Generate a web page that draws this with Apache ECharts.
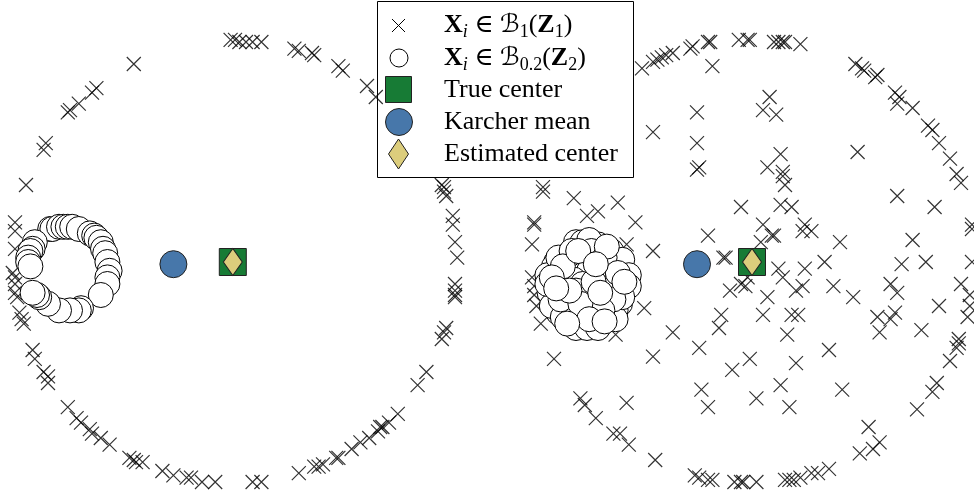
<!DOCTYPE html>
<html>
<head>
    <meta charset="utf-8">
    <title>Karcher mean vs estimated center</title>
    <script src="https://cdn.jsdelivr.net/npm/echarts@6/dist/echarts.min.js"></script>
    <style>
        body, html { margin: 0; padding: 0; height: 100%; overflow: hidden; background: #fff; }
        #main { width: 974px; height: 496px; }
    </style>
</head>
<body>
    <div id="main"></div>
    <script>
        // 左图：大球边界上的点 (×) 与小环上的点 (○)
        const leftCross = [[-0.02,1.01],[0.00,1.01],[0.02,1.00],[0.05,1.00],[0.08,1.00],[0.12,1.00],[0.27,0.97],[0.29,0.96],[0.35,0.95],[0.36,0.94],[0.47,0.89],[0.49,0.87],[0.60,0.80],[0.64,0.75],[0.94,0.35],[0.95,0.34],[0.95,0.32],[0.96,0.30],[0.99,0.21],[0.99,0.17],[1.00,0.09],[1.01,0.02],[1.00,-0.10],[1.00,-0.13],[1.00,-0.15],[1.00,-0.16],[0.96,-0.30],[0.95,-0.32],[0.94,-0.35],[0.87,-0.50],[0.83,-0.56],[0.74,-0.69],[0.70,-0.73],[0.67,-0.75],[0.66,-0.75],[0.65,-0.77],[0.61,-0.80],[0.57,-0.82],[0.53,-0.85],[0.47,-0.89],[0.46,-0.89],[0.40,-0.92],[0.38,-0.93],[0.36,-0.93],[0.29,-0.96],[0.12,-1.00],[0.08,-1.00],[-0.09,-1.00],[-0.15,-1.00],[-0.20,-0.98],[-0.22,-0.98],[-0.28,-0.97],[-0.33,-0.95],[-0.42,-0.91],[-0.45,-0.91],[-0.46,-0.90],[-0.48,-0.89],[-0.57,-0.83],[-0.61,-0.80],[-0.65,-0.78],[-0.66,-0.76],[-0.70,-0.73],[-0.72,-0.71],[-0.76,-0.66],[-0.85,-0.55],[-0.85,-0.52],[-0.87,-0.50],[-0.91,-0.44],[-0.92,-0.40],[-0.96,-0.28],[-0.97,-0.26],[-0.98,-0.23],[-0.99,-0.16],[-1.00,-0.14],[-1.00,-0.10],[-1.00,-0.07],[-1.01,-0.05],[-1.00,0.06],[-1.00,0.14],[-1.00,0.18],[-0.95,0.35],[-0.87,0.51],[-0.86,0.54],[-0.76,0.68],[-0.75,0.69],[-0.71,0.72],[-0.65,0.77],[-0.63,0.79],[-0.46,0.90]];
        const leftCircle = [[-0.84,0.15],[-0.83,0.15],[-0.80,0.16],[-0.78,0.16],[-0.76,0.16],[-0.74,0.16],[-0.71,0.15],[-0.66,0.13],[-0.64,0.12],[-0.63,0.11],[-0.61,0.09],[-0.60,0.06],[-0.59,0.04],[-0.58,0.00],[-0.57,-0.04],[-0.58,-0.07],[-0.58,-0.10],[-0.61,-0.15],[-0.70,-0.21],[-0.71,-0.22],[-0.75,-0.22],[-0.80,-0.22],[-0.85,-0.19],[-0.89,-0.16],[-0.90,-0.15],[-0.92,-0.14],[-0.91,0.09],[-0.92,0.06],[-0.93,0.05],[-0.94,0.02],[-0.94,0.00],[-0.93,-0.02]];

        // 右图：大球内部的点 (×) 与小球内部的点 (○)
        const rightCross = [[-0.50,0.88],[-0.45,0.91],[-0.43,0.92],[-0.41,0.93],[-0.39,0.94],[-0.36,0.95],[-0.28,0.97],[-0.27,0.98],[-0.20,1.00],[-0.19,1.00],[-0.06,1.01],[-0.02,1.01],[-0.01,1.01],[0.10,1.00],[0.12,1.00],[0.14,1.00],[0.15,1.00],[0.22,0.99],[0.47,0.90],[0.50,0.88],[0.51,0.87],[0.56,0.84],[0.57,0.85],[0.65,0.77],[0.67,0.75],[0.66,0.72],[0.73,0.70],[0.80,0.62],[0.82,0.60],[0.85,0.54],[0.90,0.47],[0.93,0.40],[0.95,0.36],[1.00,0.17],[1.00,0.15],[1.00,0.00],[0.95,-0.10],[0.99,-0.15],[0.99,-0.20],[0.98,-0.25],[0.94,-0.35],[0.94,-0.37],[0.93,-0.39],[0.90,-0.45],[0.84,-0.55],[0.82,-0.59],[0.75,-0.67],[0.58,-0.82],[0.55,-0.85],[0.49,-0.87],[0.53,-0.75],[0.35,-0.94],[0.30,-0.96],[0.27,-0.96],[0.22,-0.98],[0.19,-0.99],[0.17,-0.99],[0.15,-0.99],[0.02,-1.00],[-0.04,-1.00],[-0.05,-1.00],[-0.08,-1.00],[-0.18,-0.99],[-0.20,-0.99],[-0.24,-0.98],[-0.26,-0.97],[-0.44,-0.90],[-0.56,-0.83],[-0.60,-0.78],[-0.63,-0.78],[-0.71,-0.71],[-0.76,-0.65],[-0.78,-0.62],[-0.90,-0.44],[-0.96,-0.28],[-0.98,-0.20],[-0.99,-0.15],[-0.99,-0.11],[-1.00,-0.07],[-1.00,0.08],[-0.99,0.18],[-0.99,0.17],[-0.95,0.34],[-0.95,0.32],
            [-0.18,0.89],[-0.25,0.68],[-0.45,0.59],[-0.25,0.54],[-0.25,0.42],[-0.24,0.43],[0.08,0.75],[0.05,0.69],[0.11,0.67],[0.13,0.49],[0.07,0.43],[0.14,0.41],[0.14,0.39],[0.48,0.50],[-0.81,0.29],[-0.61,0.27],[-0.70,0.23],[-0.75,0.21],[-0.53,0.18],[-0.57,0.08],[-0.45,0.05],[-0.20,0.12],[-0.13,0.02],[-0.12,0.02],[-0.05,0.25],[-0.49,-0.21],[-0.36,-0.32],[-0.62,-0.33],[-0.14,-0.24],[-0.15,-0.30],[-0.10,-0.13],[-0.05,-0.10],[0.15,0.35],[0.13,0.26],[0.18,0.25],[0.66,0.30],[0.83,0.25],[0.05,0.17],[0.09,0.12],[0.10,0.12],[0.24,0.17],[0.23,0.14],[0.27,0.14],[0.40,0.09],[0.73,0.10],[0.04,0.09],[0.33,0.00],[0.68,-0.01],[0.79,0.00],[0.12,-0.03],[0.14,-0.07],[0.24,-0.03],[-0.02,-0.07],[-0.03,-0.11],[0.20,-0.13],[0.23,-0.11],[0.37,-0.11],[0.46,-0.16],[0.63,-0.10],[0.66,-0.14],[0.07,-0.16],[0.05,-0.24],[0.18,-0.24],[0.21,-0.24],[0.85,-0.20],[0.57,-0.25],[0.63,-0.26],[0.65,-0.23],[0.77,-0.31],[0.58,-0.32],[0.16,-0.33],[-0.24,-0.39],[-0.45,-0.43],[-0.09,-0.49],[-0.23,-0.58],[-0.57,-0.64],[-0.20,-0.66],[0.35,-0.40],[-0.01,-0.44],[0.20,-0.46],[0.13,-0.56],[0.41,-0.58],[0.02,-0.62],[0.17,-0.66]];
        const rightCircle = [[-0.80,0.09],[-0.77,0.09],[-0.70,0.08],[-0.74,0.10],[-0.64,0.05],[-0.59,0.01],[-0.84,0.03],[-0.76,0.02],[-0.70,0.01],[-0.89,0.00],[-0.90,-0.02],[-0.80,-0.03],[-0.68,-0.03],[-0.56,-0.06],[-0.93,-0.06],[-0.85,-0.07],[-0.77,-0.06],[-0.74,-0.04],[-0.67,-0.08],[-0.81,-0.08],[-0.77,-0.10],[-0.66,-0.12],[-0.56,-0.11],[-0.92,-0.14],[-0.88,-0.11],[-0.75,-0.14],[-0.82,-0.18],[-0.71,-0.16],[-0.60,-0.19],[-0.62,-0.22],[-0.64,-0.25],[-0.88,-0.23],[-0.91,-0.20],[-0.85,-0.26],[-0.77,-0.23],[-0.80,-0.30],[-0.75,-0.30],[-0.70,-0.30],[-0.62,-0.26],[-0.59,-0.16],[-0.88,0.02],[-0.73,0.05],[-0.67,0.02],[-0.86,-0.25],[-0.93,-0.10],[-0.71,-0.20],[-0.80,-0.13],[-0.87,-0.17],
            [-0.82,0.05],[-0.66,0.07],[-0.61,-0.05],[-0.86,-0.02],[-0.72,-0.09],[-0.63,-0.17],[-0.68,-0.22],[-0.78,-0.19],[-0.83,-0.13],[-0.91,-0.07],[-0.74,-0.26],[-0.67,-0.27],[-0.84,-0.28],[-0.79,0.05],[-0.71,-0.01],[-0.58,-0.09],[-0.89,-0.12],[-0.69,-0.14]];

        // 中心点：[左图, 右图]
        const trueCenter = [[-0.01, 0.00], [0.00, 0.00]];
        const karcherMean = [[-0.28, -0.01], [-0.25, -0.01]];
        const estCenter = [[-0.01, 0.00], [0.00, 0.00]];

        const legendLabels = [
            '{b|X}{it|i}{n| ∈ }{s|ℬ}{sub|1}{n|(}{b|Z}{sub|1}{n|)}',
            '{b|X}{it|i}{n| ∈ }{s|ℬ}{sub|0.2}{n|(}{b|Z}{sub|2}{n|)}',
            '{n|True center}',
            '{n|Karcher mean}',
            '{n|Estimated center}'
        ];

        const crossPath = 'path://M0,0L10,10M10,0L0,10';
        const serif = "'Liberation Serif', 'DejaVu Serif', serif";
        const GREEN = '#177b35', BLUE = '#4777aa', SAND = '#dccd7c';

        var chartDom = document.getElementById('main');
        var myChart = echarts.init(chartDom);

        function axis(i) {
            return { gridIndex: i, type: 'value', min: -1, max: 1, show: false };
        }

        function panel(i, cross, circ) {
            return [
                {
                    type: 'scatter', xAxisIndex: i, yAxisIndex: i, data: cross,
                    symbol: crossPath, symbolSize: 14, clip: false, silent: true,
                    itemStyle: { color: 'rgba(0,0,0,0)', borderColor: '#000', borderWidth: 1.2 }
                },
                {
                    type: 'scatter', xAxisIndex: i, yAxisIndex: i, data: circ,
                    symbol: 'circle', symbolSize: 25, clip: false, silent: true,
                    itemStyle: { color: '#fff', borderColor: '#000', borderWidth: 1, opacity: 1 }
                },
                {
                    type: 'scatter', xAxisIndex: i, yAxisIndex: i, data: [trueCenter[i]],
                    symbol: 'rect', symbolSize: 27, clip: false, silent: true,
                    itemStyle: { color: GREEN, borderColor: '#222', borderWidth: 1, opacity: 1 }
                },
                {
                    type: 'scatter', xAxisIndex: i, yAxisIndex: i, data: [karcherMean[i]],
                    symbol: 'circle', symbolSize: 27, clip: false, silent: true,
                    itemStyle: { color: BLUE, borderColor: '#222', borderWidth: 1, opacity: 1 }
                },
                {
                    type: 'scatter', xAxisIndex: i, yAxisIndex: i, data: [estCenter[i]],
                    symbol: 'diamond', symbolSize: [19, 27], clip: false, silent: true,
                    itemStyle: { color: SAND, borderColor: '#222', borderWidth: 1, opacity: 1 }
                }
            ];
        }

        // 图例（手工绘制，图标大小各不相同）
        const rowY = [25, 58, 90, 122, 154];
        const rich = {
            n: { fontSize: 26, fontFamily: serif, lineHeight: 32, fill: '#000' },
            b: { fontSize: 26, fontFamily: serif, fontWeight: 'bold', lineHeight: 32, fill: '#000' },
            it: { fontSize: 18, fontFamily: serif, fontStyle: 'italic', lineHeight: 18, verticalAlign: 'bottom', fill: '#000' },
            s: { fontSize: 25, fontFamily: "'DejaVu Serif', 'DejaVu Sans', serif", fontStyle: 'italic', lineHeight: 32, fill: '#000' },
            sub: { fontSize: 18, fontFamily: serif, lineHeight: 18, verticalAlign: 'bottom', fill: '#000' }
        };
        const legendGraphic = [
            { type: 'rect', shape: { x: 377.5, y: 1.5, width: 256, height: 176 },
              style: { fill: '#fff', stroke: '#000', lineWidth: 1 } },
            { type: 'line', shape: { x1: 392, y1: 19, x2: 405, y2: 32 },
              style: { stroke: '#000', lineWidth: 1 } },
            { type: 'line', shape: { x1: 405, y1: 19, x2: 392, y2: 32 },
              style: { stroke: '#000', lineWidth: 1 } },
            { type: 'circle', shape: { cx: 399, cy: 58, r: 9 },
              style: { fill: '#fff', stroke: '#000', lineWidth: 1 } },
            { type: 'rect', shape: { x: 385.5, y: 76.5, width: 26, height: 26 },
              style: { fill: GREEN, stroke: '#222', lineWidth: 1 } },
            { type: 'circle', shape: { cx: 399, cy: 122, r: 13.5 },
              style: { fill: BLUE, stroke: '#222', lineWidth: 1 } },
            { type: 'polygon', shape: { points: [[398.5, 139], [408.5, 154], [398.5, 169], [388.5, 154]] },
              style: { fill: SAND, stroke: '#222', lineWidth: 1 } }
        ].concat(legendLabels.map((t, k) => ({
            type: 'text', x: 444, y: rowY[k],
            style: { text: t, rich: rich, verticalAlign: 'middle', align: 'left' }
        })));

        const option = {
            backgroundColor: '#fff',
            animation: false,
            grid: [
                { left: 15, top: 42, width: 440, height: 440 },
                { left: 532, top: 42, width: 440, height: 440 }
            ],
            xAxis: [axis(0), axis(1)],
            yAxis: [axis(0), axis(1)],
            series: panel(0, leftCross, leftCircle).concat(panel(1, rightCross, rightCircle)),
            graphic: [{ type: 'group', z: 100, children: legendGraphic }]
        };

        myChart.setOption(option);

        window.addEventListener('resize', function() {
            myChart.resize();
        });
    </script>
</body>
</html>
